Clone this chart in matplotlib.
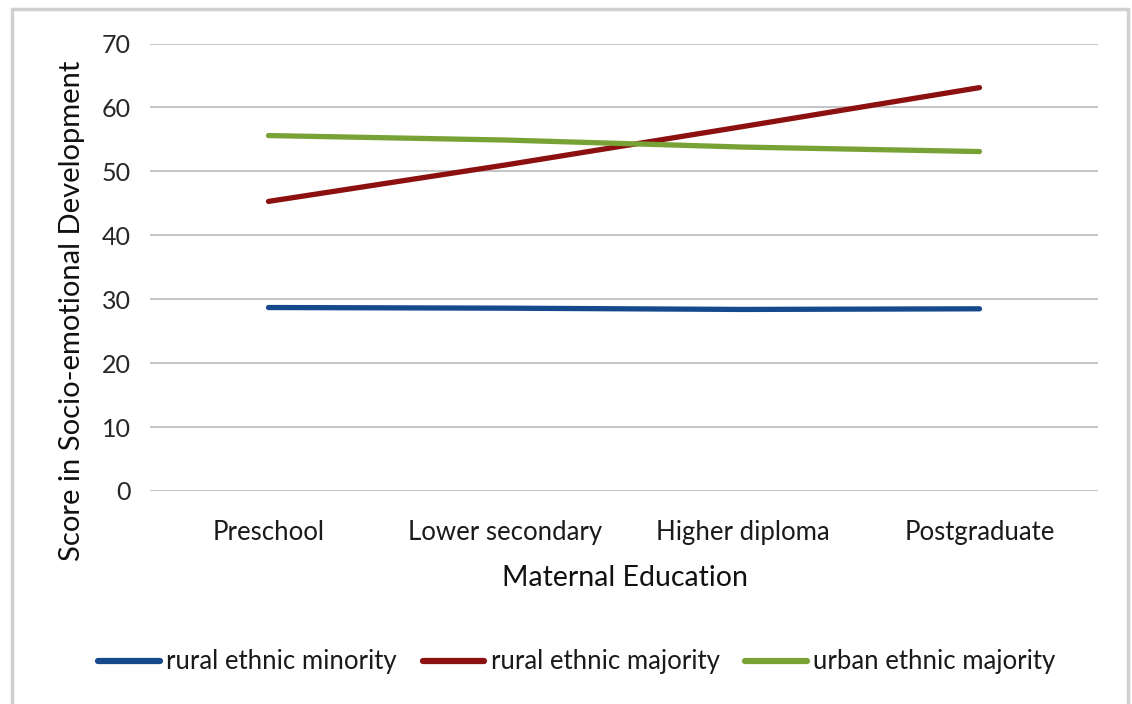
import matplotlib
matplotlib.use("Agg")
import matplotlib.pyplot as plt
from matplotlib.patches import Rectangle

plt.rcParams['font.family'] = ['Lato', 'DejaVu Sans']

categories = ["Preschool", "Lower secondary", "Higher diploma", "Postgraduate"]
rural_minority = [28.7, 28.6, 28.4, 28.5]
rural_majority = [45.3, 51.0, 57.0, 63.1]
urban_majority = [55.6, 54.9, 53.8, 53.1]
series_names = ["rural ethnic minority", "rural ethnic majority", "urban ethnic majority"]
colors = ["#174A8C", "#8C1010", "#79A236"]
y_ticks = [0, 10, 20, 30, 40, 50, 60, 70]

W, H = 1132, 704
fig = plt.figure(figsize=(W / 100, H / 100), dpi=100)
ax = fig.add_axes([150 / W, 1 - 491 / H, (1098 - 150) / W, (491 - 43.5) / H])

x = list(range(len(categories)))
for vals, name, c in zip([rural_minority, rural_majority, urban_majority], series_names, colors):
    ax.plot(x, vals, color=c, lw=3.8, solid_capstyle='round', label=name)

ax.set_xlim(-0.5, len(categories) - 0.5)
ax.set_ylim(0, 70)
ax.set_yticks(y_ticks)
ax.set_yticklabels([str(t) for t in y_ticks], fontsize=18, color="#262626")
ax.set_xticks(x)
ax.set_xticklabels(categories, fontsize=18.5, color="#1A1A1A")
ax.tick_params(axis='both', length=0)
ax.tick_params(axis='y', pad=14)
ax.tick_params(axis='x', pad=21)
ax.grid(axis='y', color="#BFBFBF", lw=1.3)
ax.set_axisbelow(True)
for s in ax.spines.values():
    s.set_visible(False)

fig.text(72 / W, 1 - 311 / H, "Score in Socio-emotional Development", rotation=90,
         ha='center', va='center', fontsize=21, color="#111111")
fig.text(625 / W, 1 - 578 / H, "Maternal Education", ha='center', va='center',
         fontsize=20.5, color="#111111")

leg = fig.legend(loc='center', bbox_to_anchor=(577 / W, 1 - 662 / H), ncol=3,
                 frameon=False, fontsize=18.5, handlelength=2.4, handletextpad=0.25,
                 columnspacing=1.0, labelcolor="#1A1A1A")
for line in leg.get_lines():
    line.set_linewidth(4.5)
    line.set_solid_capstyle('round')

# outer chart frame
fig.patches.append(Rectangle((12 / W, -0.05), (1128 - 12) / W, 1.05 - 9 / H,
                             transform=fig.transFigure, fill=False,
                             edgecolor="#D0D0D0", lw=2.5))

fig.savefig("out.png", dpi=100)
